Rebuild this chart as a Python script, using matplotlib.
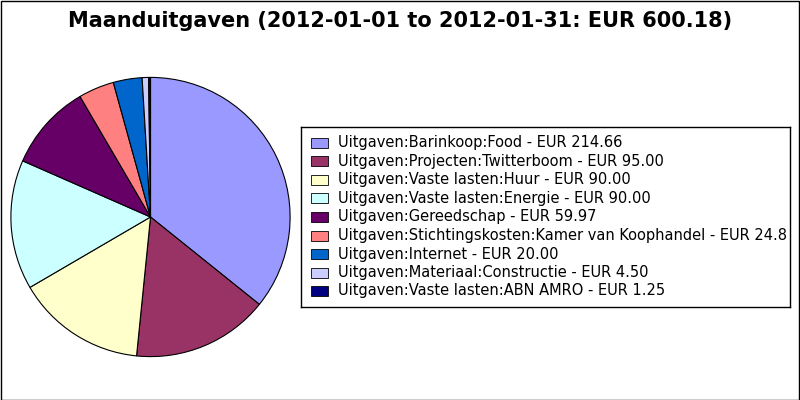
import matplotlib
matplotlib.use("Agg")
import matplotlib.pyplot as plt
from matplotlib.patches import Rectangle
from matplotlib.transforms import Bbox, TransformedBbox

categories = [
    "Uitgaven:Barinkoop:Food",
    "Uitgaven:Projecten:Twitterboom",
    "Uitgaven:Vaste lasten:Huur",
    "Uitgaven:Vaste lasten:Energie",
    "Uitgaven:Gereedschap",
    "Uitgaven:Stichtingskosten:Kamer van Koophandel",
    "Uitgaven:Internet",
    "Uitgaven:Materiaal:Constructie",
    "Uitgaven:Vaste lasten:ABN AMRO",
]
amounts = [214.66, 95.00, 90.00, 90.00, 59.97, 24.80, 20.00, 4.50, 1.25]
colors = ["#9999ff", "#993366", "#ffffcc", "#ccffff", "#660066",
          "#ff8080", "#0066cc", "#ccccff", "#000080"]

W, H = 800, 400
fig = plt.figure(figsize=(8, 4), dpi=100)
fig.patch.set_facecolor("white")

# outer border
fig.add_artist(Rectangle((0.5 / W, 0.5 / H), 1 - 1.5 / W, 1 - 1.5 / H,
                         transform=fig.transFigure, fill=False,
                         edgecolor="black", linewidth=1))

total = sum(amounts)
fig.text(0.5, 1 - 21 / H,
         f"Maanduitgaven (2012-01-01 to 2012-01-31: EUR {total:.2f})",
         ha="center", va="center", fontsize=15, fontweight="bold")


def px_axes(x0, y0, x1, y1):
    return fig.add_axes([x0 / W, 1 - y1 / H, (x1 - x0) / W, (y1 - y0) / H])


ax = px_axes(9, 76, 292, 358)
ax.pie(amounts, colors=colors, startangle=90, counterclock=False,
       wedgeprops=dict(edgecolor="black", linewidth=0.8))
ax.set_xlim(-1.01, 1.01)
ax.set_ylim(-1.01, 1.01)
ax.set_aspect("equal")
ax.axis("off")

# legend box, text clipped just inside the right edge
lx0, ly0, lx1, ly1 = 301, 127, 790, 307
lax = px_axes(lx0, ly0, lx1, ly1)
lax.set_xlim(lx0, lx1)
lax.set_ylim(ly1, ly0)
lax.set_xticks([])
lax.set_yticks([])
for s in lax.spines.values():
    s.set_linewidth(1)
clip_box = TransformedBbox(Bbox([[0, 0], [1 - 3 / (lx1 - lx0), 1]]),
                           lax.transAxes)
for i, (name, val, c) in enumerate(zip(categories, amounts, colors)):
    yc = 143 + i * 18.5
    lax.add_patch(Rectangle((311, yc - 5), 17, 10, facecolor=c,
                            edgecolor="black", linewidth=0.6))
    t = lax.text(338, yc, f"{name} - EUR {val:.2f}", fontsize=10.5,
                 va="center", ha="left")
    t.set_clip_box(clip_box)
    t.set_clip_on(True)

fig.savefig("out.png", dpi=100)
